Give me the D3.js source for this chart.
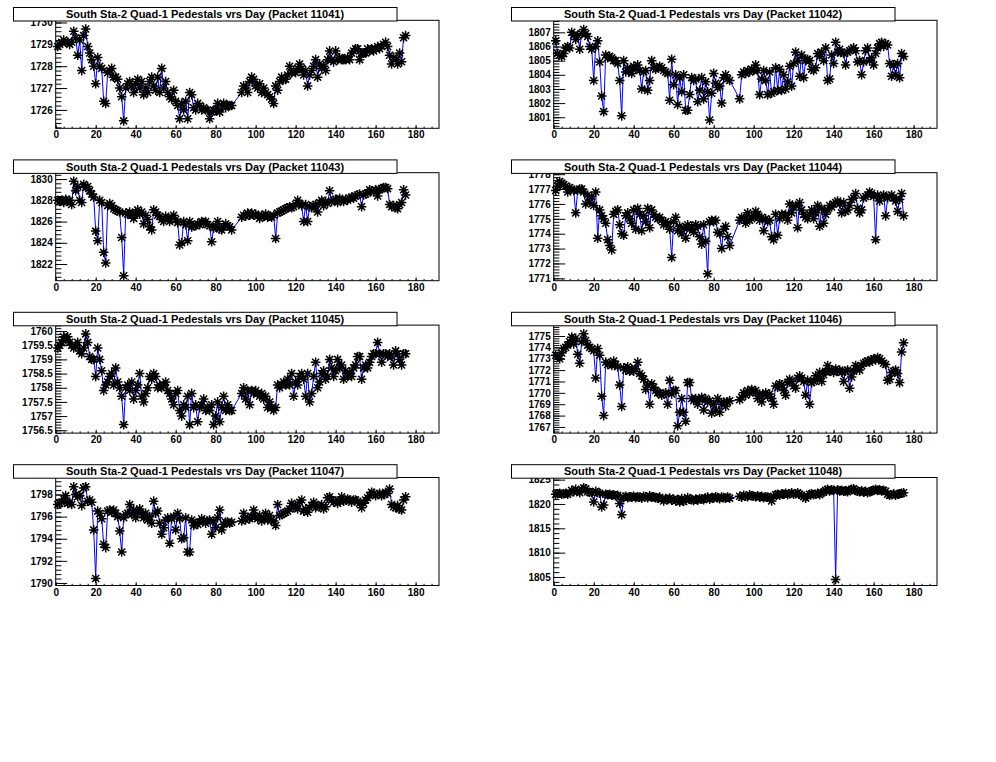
<!DOCTYPE html>
<html><head><meta charset="utf-8">
<script src="https://cdn.jsdelivr.net/npm/d3@7"></script>
<style>
body{margin:0;background:#fff}
text{font-family:"Liberation Sans",Arial,Helvetica,sans-serif;font-weight:bold}
</style>
</head><body>
<svg id="c" width="996" height="762"></svg>
<script>
// ---------------- DATA ----------------
const packets = [11041, 11042, 11043, 11044, 11045, 11046, 11047, 11048];
const titlePrefix = "South Sta-2 Quad-1 Pedestals vrs Day (Packet ";
const xTickLabels = [0, 20, 40, 60, 80, 100, 120, 140, 160, 180];
const xDomain = [0, 191.7];
const yDomains = [
  [1725.16, 1730.1], [1800.22, 1807.85],
  [1820.43, 1830.6], [1770.84, 1778.1],
  [1756.4, 1760.21], [1766.46, 1775.96],
  [1789.77, 1799.54], [1803.25, 1825.44]
];
const yMajorSteps = [1, 1, 2, 1, 0.5, 1, 2, 5];

const days = [
  1,2,3,4,5,6,7,8,9,10,11,12,13,14,15,16,17,18,19,20,
  21,22,23,24,25,26,27,28,29,30,31,32,33,34,35,36,37,38,39,40,
  41,42,43,44,45,46,47,48,49,50,51,52,53,54,55,56,57,58,59,60,
  61,62,63,64,65,66,67,68,69,70,71,72,73,74,75,76,77,78,79,80,
  81,82,83,84,85,86,87,88,
  93,94,95,96,97,98,99,100,
  101,102,103,104,105,106,107,108,109,110,111,112,113,114,115,116,117,118,119,120,
  121,122,123,124,125,126,127,128,129,130,131,132,133,134,135,136,137,138,139,140,
  141,142,143,144,145,146,147,148,149,150,151,152,153,154,155,156,157,158,159,160,
  161,162,163,164,165,166,167,168,169,170,171,172,173,174,175
];

const ped11041 = [
  1728.9,1729.0,1729.1,1729.2,1729.1,1729.1,1729.0,1729.1,1729.6,1729.3,
  1728.5,1729.2,1727.8,1729.4,1729.7,1728.9,1728.6,1728.3,1728.0,1727.2,
  1728.4,1728.0,1727.9,1726.4,1726.3,1727.7,1727.8,1727.9,1727.5,1727.5,
  1727.4,1727.0,1726.6,1725.5,1727.0,1727.2,1727.3,1727.1,1726.8,1727.2,
  1727.4,1727.0,1727.3,1726.7,1727.0,1726.8,1727.3,1727.5,1727.1,1726.9,
  1727.5,1726.8,1727.9,1727.0,1727.3,1726.8,1726.6,1726.5,1726.9,1726.4,
  1726.2,1725.6,1726.3,1726.0,1726.4,1725.6,1726.8,1726.7,1726.1,1726.0,
  1726.3,1726.2,1726.0,1726.1,1726.0,1726.0,1725.6,1725.9,1726.0,1726.0,
  1726.3,1725.9,1726.2,1726.3,1726.1,1726.2,1726.2,1726.2,
  1726.8,1727.1,1727.0,1726.8,1727.3,1727.5,1727.4,1727.1,
  1727.0,1727.2,1726.8,1727.0,1726.8,1726.7,1726.6,1726.5,1726.3,1727.1,
  1726.9,1727.3,1727.5,1727.4,1727.4,1727.6,1728.0,1727.7,1727.8,1727.7,
  1727.9,1728.1,1727.9,1727.6,1727.8,1727.1,1727.6,1727.8,1728.0,1728.3,
  1727.5,1728.1,1727.9,1728.0,1727.8,1728.3,1728.7,1728.3,1728.2,1728.7,
  1728.3,1728.4,1728.3,1728.3,1728.3,1728.4,1728.3,1728.6,1728.7,1728.8,
  1728.8,1728.3,1728.6,1728.6,1728.6,1728.8,1728.7,1728.8,1728.7,1728.8,
  1728.9,1728.8,1728.9,1729.0,1729.1,1728.9,1728.5,1728.1,1728.4,1728.3,
  1728.1,1728.6,1728.2,1729.3,1729.4
];
const ped11042 = [
  1806.4,1805.5,1805.4,1805.3,1805.5,1805.9,1806.0,1805.9,1807.0,1806.8,
  1806.5,1806.8,1805.8,1806.9,1807.2,1806.9,1806.7,1806.0,1805.8,1803.6,
  1806.0,1806.4,1804.9,1802.5,1801.4,1805.4,1805.2,1805.3,1805.2,1805.0,
  1805.0,1804.8,1803.6,1801.1,1805.0,1804.2,1804.5,1804.3,1804.1,1804.6,
  1804.4,1804.7,1804.3,1803.0,1804.2,1804.3,1802.9,1803.6,1805.0,1804.5,
  1804.4,1804.5,1804.6,1804.5,1804.3,1804.2,1804.1,1802.2,1805.1,1803.3,
  1804.0,1801.9,1803.8,1802.8,1804.0,1801.5,1801.5,1802.6,1803.8,1803.6,
  1803.7,1802.1,1802.9,1803.8,1802.3,1803.5,1802.8,1800.8,1802.7,1804.1,
  1803.4,1803.1,1803.2,1802.0,1803.8,1804.0,1803.7,1803.6,
  1802.3,1804.0,1804.2,1804.1,1804.3,1804.2,1804.4,1804.3,
  1804.7,1804.3,1802.6,1803.7,1804.3,1803.6,1802.6,1804.2,1802.7,1802.8,
  1804.5,1802.9,1804.4,1802.9,1804.0,1803.0,1803.5,1804.6,1803.2,1804.8,
  1805.6,1805.0,1803.9,1805.4,1803.8,1805.0,1805.1,1805.0,1804.4,1804.3,
  1804.5,1805.5,1805.3,1805.6,1805.0,1805.9,1803.6,1803.7,1805.4,1804.8,
  1806.3,1805.6,1805.8,1805.6,1805.5,1804.7,1805.6,1805.7,1805.8,1805.9,
  1805.7,1804.9,1805.0,1804.0,1804.9,1805.7,1805.9,1805.0,1805.2,1804.7,
  1805.5,1805.9,1806.2,1806.3,1806.0,1806.2,1806.1,1804.8,1803.9,1804.7,
  1804.0,1804.8,1803.8,1805.5,1805.3
];
const ped11043 = [
  1828.0,1827.9,1828.0,1827.8,1828.1,1827.9,1828.0,1827.6,1829.8,1828.9,
  1829.3,1828.0,1827.8,1829.5,1829.2,1829.3,1828.9,1828.6,1828.3,1825.1,
  1824.2,1828.0,1827.8,1823.1,1822.1,1827.5,1827.7,1827.5,1827.2,1827.1,
  1827.0,1826.9,1824.5,1820.9,1826.8,1826.7,1826.9,1826.6,1826.3,1826.8,
  1827.1,1826.7,1826.9,1825.8,1826.6,1826.2,1825.5,1825.2,1827.1,1826.9,
  1826.6,1826.5,1826.2,1826.0,1826.5,1826.2,1826.0,1826.4,1826.6,1826.2,
  1825.9,1823.8,1824.0,1826.0,1825.7,1824.2,1826.0,1825.5,1825.6,1825.6,
  1825.8,1825.7,1826.0,1825.9,1826.0,1825.7,1825.6,1824.1,1825.4,1825.5,
  1826.0,1825.3,1825.2,1825.5,1825.8,1825.6,1825.5,1825.2,
  1826.4,1826.6,1826.5,1826.8,1826.6,1826.8,1826.6,1826.7,
  1826.5,1826.3,1826.6,1826.5,1826.7,1826.4,1826.5,1826.4,1826.6,1824.4,
  1826.8,1826.9,1827.0,1827.1,1827.2,1827.3,1827.4,1827.3,1827.4,1827.6,
  1828.0,1827.7,1827.5,1826.0,1827.6,1826.0,1827.4,1827.3,1827.5,1827.6,
  1826.9,1827.8,1828.0,1827.5,1827.9,1827.7,1828.9,1827.9,1828.0,1828.1,
  1827.8,1828.2,1828.0,1827.9,1828.1,1828.0,1828.2,1828.3,1828.2,1828.4,
  1828.5,1828.6,1827.4,1828.5,1828.6,1828.7,1829.0,1828.9,1828.8,1829.0,
  1828.4,1829.0,1829.1,1829.2,1829.2,1829.1,1827.6,1827.4,1827.5,1827.3,
  1827.2,1827.6,1827.8,1829.0,1828.5
];
const ped11044 = [
  1776.9,1777.2,1777.5,1777.4,1777.3,1777.2,1776.8,1777.1,1777.0,1776.9,
  1775.4,1776.9,1777.0,1777.0,1776.8,1776.0,1776.6,1776.1,1776.5,1775.9,
  1776.8,1773.7,1775.6,1775.2,1775.0,1774.7,1773.6,1773.2,1772.9,1775.3,
  1775.5,1775.6,1774.6,1774.0,1773.9,1775.2,1775.4,1775.0,1774.7,1775.6,
  1774.3,1775.7,1775.3,1774.2,1775.2,1774.8,1775.7,1774.4,1775.6,1775.3,
  1775.1,1775.0,1775.1,1774.9,1774.6,1774.8,1774.7,1774.3,1772.4,1774.8,
  1775.1,1774.2,1774.5,1774.0,1774.4,1773.7,1774.6,1774.3,1774.5,1774.1,
  1774.6,1774.5,1773.8,1773.3,1774.6,1773.5,1771.3,1774.8,1774.9,1774.8,
  1774.9,1774.1,1774.0,1773.0,1774.3,1774.5,1773.8,1773.2,
  1774.9,1775.1,1775.0,1774.7,1775.4,1774.9,1775.0,1775.2,
  1775.5,1775.3,1774.9,1775.1,1774.2,1775.0,1774.8,1774.9,1773.8,1773.6,
  1775.3,1773.9,1775.0,1775.3,1775.2,1775.3,1774.9,1776.0,1775.4,1775.8,
  1775.9,1774.4,1776.1,1775.6,1775.3,1775.1,1775.0,1775.3,1775.6,1775.0,
  1775.4,1775.9,1774.5,1775.7,1774.7,1775.3,1775.6,1775.9,1775.8,1776.0,
  1776.1,1776.2,1776.0,1775.4,1776.1,1775.5,1775.6,1775.9,1776.3,1776.4,
  1776.7,1775.7,1775.4,1775.6,1776.4,1776.5,1776.6,1776.8,1776.7,1776.5,
  1773.6,1776.6,1776.2,1776.5,1776.6,1775.2,1776.4,1776.5,1776.6,1776.4,
  1776.2,1775.5,1776.3,1776.7,1775.2
];
const ped11045 = [
  1759.4,1759.5,1759.6,1759.8,1759.7,1759.8,1759.6,1759.5,1759.4,1759.5,
  1759.6,1759.3,1759.2,1759.4,1759.9,1759.6,1759.1,1759.0,1759.0,1758.4,
  1759.4,1759.0,1758.6,1757.9,1758.1,1758.2,1758.4,1758.5,1758.1,1758.7,
  1758.2,1758.0,1757.7,1756.7,1758.0,1758.1,1757.9,1758.2,1757.6,1757.9,
  1758.1,1758.5,1757.7,1757.5,1757.8,1758.0,1758.4,1758.3,1758.5,1758.4,
  1758.0,1758.1,1758.0,1758.1,1758.2,1757.9,1757.8,1757.6,1757.4,1757.8,
  1757.9,1757.2,1757.0,1757.4,1757.3,1757.7,1756.7,1757.8,1757.3,1757.4,
  1756.8,1757.3,1757.4,1757.6,1757.2,1757.3,1757.2,1757.4,1756.7,1757.0,
  1757.5,1756.8,1757.3,1757.7,1757.2,1757.4,1757.2,1757.2,
  1757.8,1758.0,1757.6,1757.9,1757.4,1757.9,1757.8,1757.9,
  1757.8,1757.7,1757.8,1757.6,1757.7,1757.3,1757.5,1757.3,1757.2,1757.3,
  1758.1,1758.0,1758.1,1758.2,1758.1,1758.3,1758.1,1758.5,1757.7,1758.2,
  1758.1,1758.4,1758.5,1758.3,1757.7,1758.5,1757.5,1757.8,1758.4,1758.9,
  1758.0,1758.2,1758.5,1758.6,1758.3,1758.4,1759.0,1758.7,1758.4,1758.6,
  1759.0,1758.7,1758.8,1758.3,1758.6,1758.4,1758.5,1758.4,1758.7,1758.8,
  1759.1,1759.1,1758.3,1758.7,1758.8,1758.7,1758.9,1759.1,1759.2,1759.2,
  1759.6,1759.2,1758.9,1759.2,1759.2,1759.1,1759.2,1759.1,1758.8,1759.3,
  1759.2,1759.0,1758.8,1759.2,1759.2
];
const ped11046 = [
  1773.3,1773.2,1773.0,1773.5,1773.9,1774.0,1774.2,1774.5,1774.9,1774.3,
  1774.8,1773.4,1772.6,1774.5,1775.2,1774.6,1774.2,1774.0,1773.9,1773.7,
  1771.3,1773.9,1773.3,1769.7,1768.0,1772.7,1772.5,1772.6,1772.4,1772.8,
  1772.5,1772.3,1770.7,1768.8,1772.2,1772.0,1772.3,1771.9,1772.1,1771.9,
  1772.1,1772.7,1771.7,1771.5,1771.2,1770.3,1770.7,1769.0,1770.8,1770.5,
  1770.2,1770.0,1770.0,1769.8,1769.9,1770.0,1769.0,1771.1,1769.9,1770.2,
  1770.2,1767.1,1768.3,1769.5,1768.3,1767.5,1770.9,1770.9,1769.5,1769.3,
  1769.5,1769.0,1769.4,1769.6,1768.5,1769.5,1769.2,1769.3,1768.2,1769.0,
  1768.4,1769.5,1768.3,1769.0,1769.2,1768.8,1769.2,1769.3,
  1769.4,1769.6,1770.0,1769.8,1770.2,1770.0,1770.3,1770.1,
  1770.2,1769.5,1769.9,1769.2,1769.8,1770.0,1769.7,1769.9,1769.5,1769.0,
  1770.6,1770.5,1770.8,1770.7,1770.2,1769.8,1770.9,1771.2,1771.0,1770.6,
  1770.4,1771.3,1771.5,1771.3,1771.0,1769.8,1771.1,1769.0,1770.9,1771.0,
  1771.5,1771.2,1771.8,1771.0,1771.6,1771.9,1772.4,1771.9,1772.0,1771.8,
  1772.1,1771.9,1772.0,1771.8,1771.0,1771.9,1772.0,1770.4,1771.4,1771.9,
  1772.4,1772.3,1772.0,1772.4,1772.6,1772.7,1772.8,1772.7,1772.9,1773.0,
  1772.9,1773.1,1773.0,1772.8,1772.6,1772.5,1771.1,1771.2,1771.8,1771.9,
  1772.0,1771.7,1770.9,1773.6,1774.4
];
const ped11047 = [
  1797.1,1797.2,1797.3,1797.6,1797.9,1797.2,1797.3,1797.1,1798.7,1798.0,
  1797.8,1797.9,1797.0,1798.6,1798.7,1797.4,1797.5,1797.3,1794.8,1790.4,
  1796.5,1796.3,1795.8,1793.5,1793.2,1796.5,1796.6,1796.4,1796.6,1796.3,
  1796.0,1794.7,1792.8,1795.9,1796.2,1796.3,1797.1,1796.2,1796.6,1795.9,
  1796.4,1796.7,1796.2,1795.9,1796.3,1795.7,1796.0,1795.4,1797.4,1796.3,
  1796.5,1795.4,1794.4,1795.0,1795.7,1795.9,1793.6,1795.8,1796.0,1794.8,
  1796.3,1795.8,1794.0,1794.1,1795.9,1792.8,1792.8,1795.7,1795.2,1795.4,
  1795.3,1795.5,1795.8,1795.6,1795.4,1795.6,1795.7,1794.4,1795.6,1795.0,
  1795.9,1796.6,1794.8,1795.3,1795.5,1795.5,1795.4,1795.5,
  1795.6,1796.3,1795.7,1795.9,1795.8,1796.0,1796.6,1796.0,
  1795.8,1796.1,1795.6,1795.8,1796.3,1795.7,1796.1,1795.7,1795.6,1795.2,
  1797.1,1796.1,1796.2,1796.3,1796.4,1796.5,1796.7,1797.2,1796.8,1797.0,
  1796.7,1797.3,1797.5,1796.5,1796.7,1796.4,1796.8,1797.0,1797.3,1796.8,
  1797.0,1796.9,1797.1,1796.7,1796.9,1797.7,1797.8,1797.5,1797.3,1797.4,
  1797.2,1797.4,1797.8,1797.4,1797.5,1797.6,1797.5,1797.3,1797.5,1797.5,
  1797.4,1797.2,1796.8,1797.2,1797.5,1797.7,1797.9,1798.2,1798.1,1797.9,
  1798.0,1798.1,1797.9,1798.0,1798.2,1798.1,1798.5,1797.1,1796.9,1796.8,
  1797.0,1796.7,1796.6,1797.5,1797.8
];
const ped11048 = [
  1822.0,1822.1,1822.2,1822.0,1822.1,1822.2,1822.0,1822.3,1822.8,1822.5,
  1823.0,1822.6,1822.3,1823.0,1823.3,1823.1,1822.5,1822.4,1822.3,1820.4,
  1822.6,1822.3,1822.2,1819.4,1819.8,1822.0,1821.9,1822.0,1821.8,1821.9,
  1821.7,1821.8,1820.1,1817.8,1821.4,1821.6,1821.3,1821.5,1821.4,1821.6,
  1821.3,1821.5,1821.4,1821.2,1821.6,1821.5,1821.3,1821.7,1821.4,1821.5,
  1821.3,1821.2,1821.4,1821.0,1820.6,1821.1,1820.9,1821.2,1820.8,1821.0,
  1820.6,1820.9,1820.4,1821.1,1820.5,1820.8,1821.3,1821.0,1820.9,1820.7,
  1821.0,1820.8,1821.1,1821.0,1820.9,1821.2,1821.4,1821.0,1821.3,1821.2,
  1821.5,1821.3,1821.1,1821.4,1821.3,1821.2,1821.4,1821.2,
  1821.6,1821.4,1821.8,1821.6,1821.5,1821.9,1821.7,1821.6,
  1821.5,1821.7,1821.4,1821.6,1821.3,1821.5,1821.4,1821.2,1820.6,1821.6,
  1821.9,1822.0,1821.8,1822.1,1822.0,1822.2,1821.9,1822.1,1822.3,1822.0,
  1822.1,1822.3,1822.0,1821.8,1821.5,1821.2,1821.6,1822.0,1822.1,1821.9,
  1822.0,1822.2,1821.9,1822.3,1822.4,1822.8,1823.0,1822.7,1822.9,1822.8,
  1804.5,1822.9,1822.7,1822.8,1822.6,1822.7,1822.5,1822.8,1823.0,1823.1,
  1822.8,1822.6,1822.5,1822.7,1822.4,1822.6,1822.3,1822.5,1822.7,1822.8,
  1823.0,1822.8,1822.9,1822.7,1822.8,1822.6,1822.0,1821.8,1821.9,1822.1,
  1821.8,1822.0,1822.1,1822.2,1822.3
];
const series = [ped11041, ped11042, ped11043, ped11044, ped11045, ped11046, ped11047, ped11048];

// ---------------- DRAWING ----------------
const svg = d3.select("#c");
svg.append("rect").attr("width", 996).attr("height", 762).attr("fill", "#fff");

const PW = 498, PH = 152.4;
const FL = 55.7, FR = 439, FT = 20.3, FB = 128.3;
const fmt = d3.format("~f");

function ticksFor(dom, step) {
  const out = [];
  const n0 = Math.ceil(dom[0] / step - 1e-9), n1 = Math.floor(dom[1] / step + 1e-9);
  for (let n = n0; n <= n1; n++) out.push(+(n * step).toFixed(6));
  return out;
}

series.forEach((vals, i) => {
  const r = Math.floor(i / 2), c = i % 2;
  const g = svg.append("g").attr("transform", `translate(${c * PW},${r * PH})`);
  const x = d3.scaleLinear().domain(xDomain).range([FL, FR]);
  const y = d3.scaleLinear().domain(yDomains[i]).range([FB, FT]);
  const n = Math.min(days.length, vals.length);
  const pts = d3.range(n).map(k => [days[k], vals[k]]);

  // line
  g.append("path").datum(pts)
    .attr("fill", "none").attr("stroke", "#0000ff").attr("stroke-width", 1)
    .attr("d", d3.line().x(d => x(d[0])).y(d => y(d[1])));

  // star markers
  const R = 4.8, D = 3.5;
  g.append("path")
    .attr("fill", "none").attr("stroke", "#000").attr("stroke-width", 1.5)
    .attr("d", pts.map(d => {
      const px = x(d[0]), py = y(d[1]);
      return `M${px - R},${py}h${2 * R}M${px},${py - R}v${2 * R}` +
             `M${px - D},${py - D}l${2 * D},${2 * D}M${px - D},${py + D}l${2 * D},${-2 * D}`;
    }).join(""));

  // y axis
  const step = yMajorSteps[i];
  const yMaj = ticksFor(yDomains[i], step);
  const yMin = ticksFor(yDomains[i], step / 5);
  const ya = g.append("g").attr("transform", `translate(${FL},0)`);
  ya.call(d3.axisLeft(y).tickValues(yMin).tickSize(-5.7).tickFormat(""));
  ya.select(".domain").remove();
  const yb = g.append("g").attr("transform", `translate(${FL},0)`);
  yb.call(d3.axisLeft(y).tickValues(yMaj).tickSize(-11.5).tickPadding(3).tickFormat(fmt));
  yb.select(".domain").remove();

  // x axis
  const xMin = ticksFor(xDomain, 4);
  const xa = g.append("g").attr("transform", `translate(0,${FB})`);
  xa.call(d3.axisBottom(x).tickValues(xMin).tickSize(-1.7).tickFormat(""));
  xa.select(".domain").remove();
  const xb = g.append("g").attr("transform", `translate(0,${FB})`);
  xb.call(d3.axisBottom(x).tickValues(xTickLabels).tickSize(-3.3).tickPadding(3).tickFormat(d3.format("d")));
  xb.select(".domain").remove();

  g.selectAll(".tick line").attr("stroke", "#000");
  g.selectAll(".tick text").attr("font-size", 10).attr("fill", "#000")
    .style("font-family", '"Liberation Sans",Arial,sans-serif').style("font-weight", "bold");

  // frame
  g.append("rect").attr("x", FL).attr("y", FT).attr("width", FR - FL).attr("height", FB - FT)
    .attr("fill", "none").attr("stroke", "#000").attr("stroke-width", 1);

  // title box
  g.append("rect").attr("x", 13.5).attr("y", 7.5).attr("width", 383.5).attr("height", 13.5)
    .attr("fill", "#fff").attr("stroke", "#000").attr("stroke-width", 1);
  g.append("text").attr("x", 205).attr("y", 18.2).attr("text-anchor", "middle")
    .attr("font-size", 11).attr("fill", "#000")
    .text(titlePrefix + packets[i] + ")");
});
</script>
</body></html>
